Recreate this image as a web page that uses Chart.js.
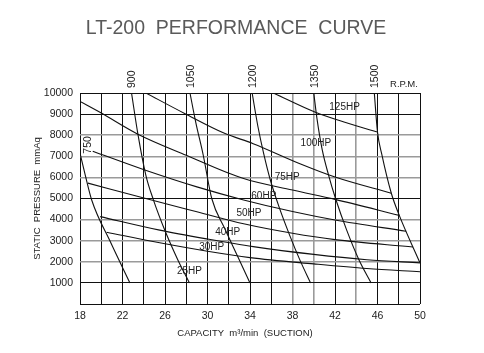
<!DOCTYPE html>
<html>
<head>
<meta charset="utf-8">
<script src="https://cdn.jsdelivr.net/npm/chart.js@4.4.1/dist/chart.umd.min.js"></script>
<style>
    html, body { margin: 0; padding: 0; background: #fff; }
</style>
</head>
<body>
<canvas id="myChart" width="484" height="353"></canvas>
<script>
// capacity (m3/min) / static pressure (mmAq) pairs
var hp125 = [[36.2, 10000], [40.1, 9100], [43, 8600], [46, 8150]];
var hp100 = [[24.2, 10000], [27.85, 9030], [31.6, 8090], [34.3, 7600], [38.7, 6650], [42, 6020], [47.3, 5250]];
var hp75 = [[18, 9600], [20, 9050], [23.45, 8050], [28, 7050], [33.4, 5945], [38, 5400], [42, 4960], [48.05, 4200]];
var hp60 = [[19.2, 7240], [24.1, 6350], [29, 5550], [33.4, 4930], [38, 4380], [42, 3980], [48.7, 3450]];
var hp50 = [[18.75, 5730], [24.1, 5010], [29, 4370], [33.4, 3800], [38, 3350], [42, 3050], [49.35, 2700]];
var hp40 = [[19.9, 4140], [25.5, 3500], [30, 3080], [34.3, 2720], [40, 2350], [45, 2100], [50, 1950]];
var hp30 = [[20.5, 3400], [25.5, 2900], [30, 2500], [34, 2200], [40, 1900], [45, 1680], [50, 1530]];

var rpm750 = [[18, 7150], [18.5, 6100], [19.1, 4930], [20.9, 2900], [22.7, 1000]];
var rpm900 = [[22.85, 10000], [23.45, 8050], [24.2, 6100], [24.9, 4950], [26.1, 3350], [27.2, 2100], [28.3, 1000]];
var rpm1050 = [[28.35, 10000], [28.9, 8600], [29.6, 7050], [30.4, 5000], [31.6, 3600], [32.8, 2300], [34, 1000]];
var rpm1200 = [[34.2, 10000], [34.75, 8400], [35.3, 7100], [35.9, 5900], [36.7, 4650], [37.7, 3300], [38.7, 2080], [39.7, 1000]];
var rpm1350 = [[40, 10000], [40.3, 8800], [40.8, 7300], [41.4, 6100], [42.05, 5000], [43.1, 3500], [44.25, 2100], [45.4, 1000]];
var rpm1500 = [[45.7, 10000], [46, 8150], [46.4, 7100], [47.3, 5250], [48.05, 4200], [50, 1950]];

var hpCurves = [hp125, hp100, hp75, hp60, hp50, hp40, hp30];
var rpmCurves = [rpm750, rpm900, rpm1050, rpm1200, rpm1350, rpm1500];
var rpmNames = ['750', '900', '1050', '1200', '1350', '1500'];

// curve labels, placed where the drawing has them
var hpNames = ['125HP', '100HP', '75HP', '60HP', '50HP', '40HP', '30HP', '25HP'];
var hpLabelX = [42.9, 40.2, 37.5, 35.3, 33.9, 31.9, 30.4, 28.3];
var hpLabelY = [9340, 7610, 6020, 5100, 4310, 3390, 2700, 1560];

var xLabels = [18, 22, 26, 30, 34, 38, 42, 46, 50];
var grayX = [38, 40, 44];
var grayY = [2000, 3000, 4000, 6000, 7000, 8000];

var chartTitle = 'LT-200  PERFORMANCE  CURVE';
var xTitle = 'CAPACITY  m\u00b3/min  (SUCTION)';
var yTitle = 'STATIC  PRESSURE  mmAq';

var fontFamily = '"Liberation Sans", Arial, sans-serif';

var textPlugin = {
    id: 'curveText',
    afterDatasetsDraw: function (chart) {
        var ctx = chart.ctx;
        var xs = chart.scales.x;
        var ys = chart.scales.y;
        var top = chart.chartArea.top;

        ctx.save();
        ctx.fillStyle = '#5a5a5a';
        ctx.font = '19.5px ' + fontFamily;
        ctx.textAlign = 'center';
        ctx.textBaseline = 'middle';
        ctx.fillText(chartTitle, 236, 29);

        ctx.fillStyle = '#222';
        ctx.font = '9.5px ' + fontFamily;
        ctx.fillText(xTitle, 245, 333);

        ctx.font = '10px ' + fontFamily;
        for (var i = 0; i < hpNames.length; i++) {
            ctx.fillText(hpNames[i], xs.getPixelForValue(hpLabelX[i]), ys.getPixelForValue(hpLabelY[i]));
        }

        ctx.font = '10.5px ' + fontFamily;
        for (var j = 0; j < rpmCurves.length; j++) {
            var px, py, align;
            if (j === 0) {
                // 750 sits inside the grid
                px = xs.getPixelForValue(18.75);
                py = ys.getPixelForValue(7540);
                align = 'center';
            } else {
                px = xs.getPixelForValue(rpmCurves[j][0][0]) + 1;
                py = top - 5;
                align = 'left';
            }
            ctx.save();
            ctx.translate(px, py);
            ctx.rotate(-Math.PI / 2);
            ctx.textAlign = align;
            ctx.fillText(rpmNames[j], 0, 0);
            ctx.restore();
        }

        ctx.font = '9.5px ' + fontFamily;
        ctx.textAlign = 'center';
        ctx.fillText('R.P.M.', 404, 84);
        ctx.restore();
    }
};

var makeSet = function (name, points) {
    return {
        label: name,
        data: points,
        showLine: true,
        borderColor: '#111',
        borderWidth: 1.1,
        pointRadius: 0,
        fill: false,
        tension: 0.4,
        cubicInterpolationMode: 'monotone'
    };
};

var datasets = [];
for (var i = 0; i < hpCurves.length; i++) datasets.push(makeSet(hpNames[i], hpCurves[i]));
for (var k = 0; k < rpmCurves.length; k++) datasets.push(makeSet(rpmNames[k] + ' rpm', rpmCurves[k]));

var ctx = document.getElementById('myChart');
var myChart = new Chart(ctx, {
    type: 'scatter',
    data: { datasets: datasets },
    plugins: [textPlugin],
    options: {
        responsive: false,
        animation: false,
        devicePixelRatio: 1,
        layout: { padding: { top: 93, right: 64, left: 0, bottom: 0 } },
        plugins: {
            legend: { display: false },
            tooltip: { enabled: false }
        },
        scales: {
            x: {
                type: 'linear',
                min: 18,
                max: 50,
                afterFit: function (scale) { scale.height = 49; },
                border: { display: false },
                grid: {
                    drawTicks: false,
                    color: function (c) { return c.tick && grayX.indexOf(c.tick.value) >= 0 ? '#9a9a9a' : '#111'; },
                    lineWidth: function (c) { return c.tick && grayX.indexOf(c.tick.value) >= 0 ? 1.6 : 1; }
                },
                ticks: {
                    stepSize: 2,
                    padding: 6,
                    color: '#222',
                    font: { family: fontFamily, size: 10.5 },
                    maxRotation: 0,
                    autoSkip: false,
                    callback: function (v) { return xLabels.indexOf(v) >= 0 ? v : ''; }
                }
            },
            y: {
                min: 0,
                max: 10000,
                afterFit: function (scale) { scale.width = 80; },
                border: { display: false },
                grid: {
                    drawTicks: false,
                    color: function (c) { return c.tick && grayY.indexOf(c.tick.value) >= 0 ? '#9a9a9a' : '#111'; },
                    lineWidth: function (c) { return c.tick && grayY.indexOf(c.tick.value) >= 0 ? 1.6 : 1; }
                },
                ticks: {
                    stepSize: 1000,
                    padding: 7,
                    color: '#222',
                    font: { family: fontFamily, size: 10.5 },
                    callback: function (v) { return v === 0 ? '' : v; }
                },
                title: {
                    display: true,
                    text: yTitle,
                    color: '#222',
                    font: { family: fontFamily, size: 9.5 },
                    padding: { top: 31.5, bottom: 0 }
                }
            }
        }
    }
});
</script>
</body>
</html>
